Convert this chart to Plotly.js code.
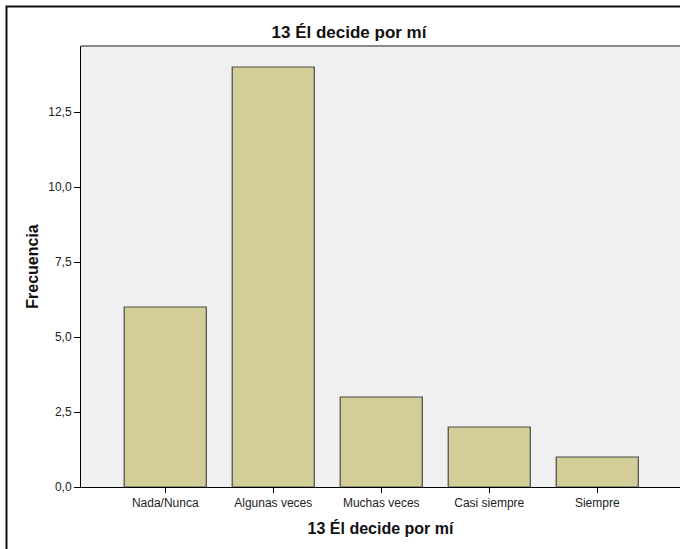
<!DOCTYPE html>
<html>
<head>
<meta charset="utf-8">
<script src="https://cdn.plot.ly/plotly-3.0.1.min.js"></script>
<style>
  html, body { margin: 0; padding: 0; background: #ffffff; }
  #chart { width: 680px; height: 549px; }
</style>
</head>
<body>
<div id="chart"></div>
<script>
const categories = ["Nada/Nunca", "Algunas veces", "Muchas veces", "Casi siempre", "Siempre"];
const frecuencia = [6, 14, 3, 2, 1];
const yTicks = [0, 2.5, 5, 7.5, 10, 12.5];
const chartTitle = "13 Él decide por mí";
const xTitle = "13 Él decide por mí";
const yTitle = "Frecuencia";

const font = "Liberation Sans, Arial, sans-serif";

const trace = {
  type: "bar",
  x: categories.map((c, i) => i),
  y: frecuencia,
  width: 0.76,
  marker: { color: "#d3ce97", line: { color: "#4a4a4a", width: 1.2 } },
  hoverinfo: "x+y"
};

const layout = {
  width: 680,
  height: 549,
  margin: { l: 81, r: 0, t: 46, b: 62 },
  paper_bgcolor: "#ffffff",
  plot_bgcolor: "#f0f0f0",
  separators: ",.",
  showlegend: false,
  font: { family: font, color: "#222" },
  title: {
    text: chartTitle,
    xref: "container", x: 349 / 680, xanchor: "center",
    yref: "container", y: 1 - 32 / 549, yanchor: "middle",
    font: { family: font, size: 17, color: "#111", weight: "bold" }
  },
  xaxis: {
    range: [-0.78, 4.766],
    tickmode: "array",
    tickvals: categories.map((c, i) => i),
    ticktext: categories,
    ticks: "outside", ticklen: 5, tickwidth: 1, tickcolor: "#000",
    showline: true, linecolor: "#000", linewidth: 1,
    showgrid: false, zeroline: false,
    tickfont: { family: font, size: 12, color: "#222" },
    title: { text: xTitle, standoff: 13, font: { family: font, size: 16, color: "#111", weight: "bold" } }
  },
  yaxis: {
    range: [0, 14.7],
    tickmode: "array",
    tickvals: yTicks,
    tickformat: ".1f",
    ticks: "outside", ticklen: 6, tickwidth: 1, tickcolor: "#000",
    showline: true, linecolor: "#000", linewidth: 1,
    showgrid: false, zeroline: false,
    tickfont: { family: font, size: 12, color: "#222" },
    title: { text: yTitle, standoff: 5, font: { family: font, size: 16, color: "#111", weight: "bold" } }
  },
  shapes: [
    { type: "line", xref: "paper", yref: "paper", x0: 0, x1: 1.05, y0: 1, y1: 1,
      line: { color: "#8a8a8a", width: 2 } },
    { type: "rect", xref: "paper", yref: "paper",
      x0: (6.5 - 81) / 599, x1: 1.2, y0: (487 - 6.5) / 441, y1: -0.3,
      line: { color: "#111", width: 2 }, fillcolor: "rgba(0,0,0,0)" }
  ]
};

Plotly.newPlot("chart", [trace], layout, { displayModeBar: false, staticPlot: true });
</script>
</body>
</html>
